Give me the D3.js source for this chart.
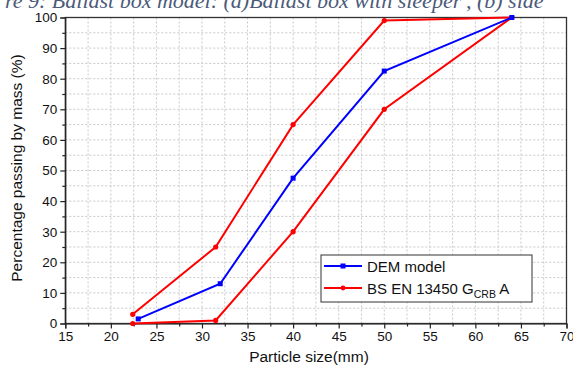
<!DOCTYPE html>
<html><head><meta charset="utf-8">
<script src="https://cdn.jsdelivr.net/npm/d3@7"></script>
<style>body{margin:0;background:#fff;}svg{display:block;}</style>
</head><body>
<script>
// Data
const demX = [23, 32, 40, 50, 64];
const demY = [1.5, 13, 47.5, 82.5, 100];
const bsX = [22.4, 31.5, 40, 50, 64, 50, 40, 31.5, 22.4];
const bsY = [0, 1, 30, 70, 100, 99, 65, 25, 3];
const xTicks = [15, 20, 25, 30, 35, 40, 45, 50, 55, 60, 65, 70];
const yTicks = [0, 10, 20, 30, 40, 50, 60, 70, 80, 90, 100];
const seriesNames = ["DEM model", "BS EN 13450 G", "CRB", " A"];

const W = 573, H = 366;
const svg = d3.select("body").append("svg").attr("width", W).attr("height", H);
const L = 65.3, R = 566.5, T = 17.5, B = 323.5;
const x = d3.scaleLinear().domain([15, 70]).range([L, R]);
const y = d3.scaleLinear().domain([0, 100]).range([B, T]);

// caption (cropped)
svg.append("text").attr("x", 5).attr("y", 7.5)
  .attr("font-family", "Liberation Serif, serif").attr("font-style", "italic")
  .attr("font-size", 22).attr("fill", "#4b5a78")
  .text("re 9: Ballast box model: (a)Ballast box with sleeper', (b) side");

// grid
const gx = d3.range(17.5, 70, 2.5);
const gy = d3.range(5, 100, 5);
svg.append("g").selectAll("line").data(gx).join("line")
  .attr("x1", d => x(d)).attr("x2", d => x(d)).attr("y1", T).attr("y2", B)
  .attr("stroke", "#c8c8c8").attr("stroke-width", 1).attr("stroke-dasharray", "2,2");
svg.append("g").selectAll("line").data(gy).join("line")
  .attr("y1", d => y(d)).attr("y2", d => y(d)).attr("x1", L).attr("x2", R)
  .attr("stroke", "#c8c8c8").attr("stroke-width", 1).attr("stroke-dasharray", "2,2");

// frame
svg.append("rect").attr("x", L).attr("y", T).attr("width", R - L).attr("height", B - T)
  .attr("fill", "none").attr("stroke", "#333").attr("stroke-width", 1.3);

// axes
const xAxis = d3.axisBottom(x).tickValues(xTicks).tickSize(5).tickPadding(3);
const gX = svg.append("g").attr("transform", `translate(0,${B})`).call(xAxis);
svg.append("g").attr("transform", `translate(0,${B})`)
  .call(d3.axisBottom(x).tickValues(d3.range(17.5, 70, 5)).tickSize(3).tickFormat(""))
  .call(g => g.select(".domain").remove());
const yAxis = d3.axisLeft(y).tickValues(yTicks).tickSize(5).tickPadding(3);
const gY = svg.append("g").attr("transform", `translate(${L},0)`).call(yAxis);
svg.append("g").attr("transform", `translate(${L},0)`)
  .call(d3.axisLeft(y).tickValues(d3.range(5, 100, 10)).tickSize(3).tickFormat(""))
  .call(g => g.select(".domain").remove());
svg.selectAll(".tick line, .domain").attr("stroke", "#222").attr("stroke-width", 1.2);
svg.selectAll(".tick text").attr("font-family", "Liberation Sans, Arial, sans-serif")
  .attr("font-size", 13.5).attr("fill", "#111");

// lines
const line = d3.line().x(d => x(d[0])).y(d => y(d[1]));
const bs = bsX.map((v, i) => [v, bsY[i]]);
const dem = demX.map((v, i) => [v, demY[i]]);
svg.append("path").datum(bs).attr("d", line).attr("fill", "none")
  .attr("stroke", "#ff0000").attr("stroke-width", 2);
svg.append("g").selectAll("circle").data(bs).join("circle")
  .attr("cx", d => x(d[0])).attr("cy", d => y(d[1])).attr("r", 2.6).attr("fill", "#ff0000");
svg.append("path").datum(dem).attr("d", line).attr("fill", "none")
  .attr("stroke", "#0000ff").attr("stroke-width", 2);
svg.append("g").selectAll("rect").data(dem).join("rect")
  .attr("x", d => x(d[0]) - 2.5).attr("y", d => y(d[1]) - 2.5).attr("width", 5).attr("height", 5)
  .attr("fill", "#0000ff");

// axis titles
svg.append("text").attr("x", 309).attr("y", 362).attr("text-anchor", "middle")
  .attr("font-family", "Liberation Sans, Arial, sans-serif").attr("font-size", 15.5).attr("fill", "#111")
  .text("Particle size(mm)");
svg.append("text").attr("transform", "translate(22,168) rotate(-90)").attr("text-anchor", "middle")
  .attr("font-family", "Liberation Sans, Arial, sans-serif").attr("font-size", 15.5).attr("fill", "#111")
  .text("Percentage passing by mass (%)");

// legend
const lg = svg.append("g");
lg.append("rect").attr("x", 321).attr("y", 255).attr("width", 211).attr("height", 47)
  .attr("fill", "#fff").attr("stroke", "#333").attr("stroke-width", 1);
const rows = [{c: "#0000ff", yy: 266, sq: true}, {c: "#ff0000", yy: 288, sq: false}];
rows.forEach(r => {
  lg.append("line").attr("x1", 324).attr("x2", 362).attr("y1", r.yy).attr("y2", r.yy)
    .attr("stroke", r.c).attr("stroke-width", 2);
  if (r.sq) lg.append("rect").attr("x", 340.5).attr("y", r.yy - 2.5).attr("width", 5).attr("height", 5).attr("fill", r.c);
  else lg.append("circle").attr("cx", 343).attr("cy", r.yy).attr("r", 2.4).attr("fill", r.c);
});
lg.append("text").attr("x", 367).attr("y", 271.5)
  .attr("font-family", "Liberation Sans, Arial, sans-serif").attr("font-size", 15).attr("fill", "#111")
  .text(seriesNames[0]);
const t2 = lg.append("text").attr("x", 367).attr("y", 293.5)
  .attr("font-family", "Liberation Sans, Arial, sans-serif").attr("font-size", 15).attr("fill", "#111");
t2.append("tspan").text(seriesNames[1]);
t2.append("tspan").attr("font-size", 10.5).attr("dy", 4).text(seriesNames[2]);
t2.append("tspan").attr("dy", -4).text(seriesNames[3]);
</script>
</body></html>
